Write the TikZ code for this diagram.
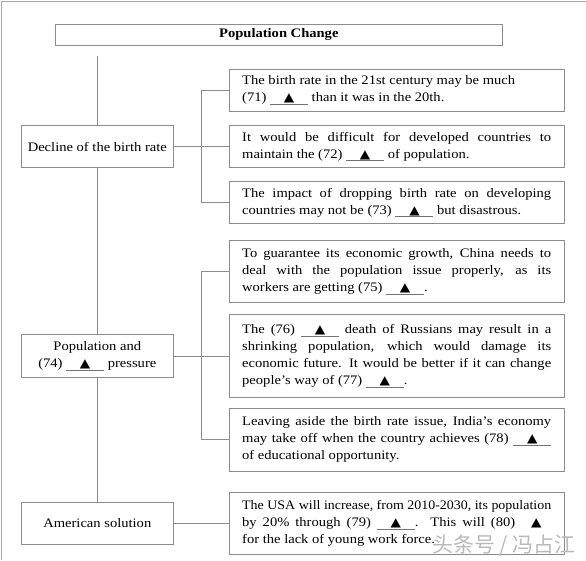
\documentclass[tikz,border=0pt]{standalone}
\usepackage{fontspec}
\setmainfont{Liberation Serif}[FakeStretch=1.12]
\newfontfamily\symf{DejaVu Sans}
\newfontfamily\cjk{Noto Sans CJK SC}
\definecolor{linegray}{HTML}{8C8C8C}
\definecolor{framegray}{HTML}{A8A8A8}
\newcommand\tri{\scalebox{1.0}[0.9]{\symf\fontsize{13.5}{13.5}\selectfont ▲}}
\newcommand\blk{\makebox[38pt][l]{\raisebox{-2.8pt}{\textcolor{black!55}{\rule{38pt}{0.6pt}}}}\kern-38pt\makebox[38pt]{\tri}}
\newcommand\blknoline{\makebox[30pt]{\tri}}
\tikzset{
  txt/.style={font=\fontsize{13}{17}\selectfont},
  boxline/.style={draw=linegray, line width=0.8pt},
  lbox/.style={boxline, txt, minimum width=152pt, inner sep=0pt, align=center},
  rbox/.style={boxline, txt, text width=309pt, inner xsep=12.85pt, inner ysep=0pt, align=justify},
  conn/.style={draw=linegray, line width=0.8pt},
}
\begin{document}
\begin{tikzpicture}[x=1pt,y=-1pt]
\useasboundingbox (0,0) rectangle (586,560);
\draw[framegray, line width=1pt] (1,560) -- (1,1) -- (586,1);

\node[boxline, font=\bfseries\fontsize{13}{17}\selectfont, minimum width=447pt, minimum height=20.7pt, inner sep=0pt] (title) at (278.8,34.65) {Population Change};

\node[lbox, minimum height=41.6pt] (decl) at (97.3,146.5) {Decline of the birth rate};
\node[lbox, minimum height=42.3pt] (pop) at (97.3,355.9) {Population and\\(74) \blk{} pressure};
\node[lbox, minimum height=41.7pt] (amer) at (97.3,523.2) {American solution};

\node[rbox, minimum height=41.7pt] (b1) at (396.7,90.2) {The birth rate in the 21st century may be much\\(71) \blk{} than it was in the 20th.};
\node[rbox, minimum height=41.3pt] (b2) at (396.7,146.5) {It would be difficult for developed countries to\linebreak maintain the (72) \blk{} of population.};
\node[rbox, minimum height=41.8pt] (b3) at (396.7,202.4) {The impact of dropping birth rate on developing\linebreak countries may not be (73) \blk{} but disastrous.};
\node[rbox, minimum height=62pt] (b4) at (396.7,271.7) {To guarantee its economic growth, China needs to\linebreak deal with the population issue properly, as its\linebreak workers are getting (75) \blk{}.};
\node[rbox, minimum height=83.2pt] (b5) at (396.7,355.9) {The (76) \blk{} death of Russians may result in a\linebreak shrinking population, which would damage its\linebreak economic future. It would be better if it can change\linebreak people's way of (77) \blk{}.};
\node[rbox, minimum height=62.7pt] (b6) at (396.7,439.7) {Leaving aside the birth rate issue, India's economy\linebreak may take off when the country achieves (78) \blk\linebreak of educational opportunity.};
\node[rbox, minimum height=61.7pt] (b7) at (396.7,523.2) {\resizebox{\linewidth}{\height}{The USA will increase, from 2010-2030, its population}\linebreak by 20\% through (79) \blk{}. This will (80) \blknoline\linebreak for the lack of young work force.};

\coordinate (top) at (97.3,55.7);
\coordinate (j1) at (201.3,146.5);
\coordinate (j2) at (201.3,355.9);

\draw[conn] (top) -- (decl.north);
\draw[conn] (decl.south) -- (pop.north);
\draw[conn] (pop.south) -- (amer.north);

\draw[conn] (decl.east) -- (b2.west);
\draw[conn] (b1.west) -| (j1) |- (b3.west);
\draw[conn] (pop.east) -- (b5.west);
\draw[conn] (b4.west) -| (j2) |- (b6.west);
\draw[conn] (amer.east) -- (b7.west);

\node[font=\cjk\fontsize{21}{21}\selectfont, text=gray!55, inner sep=0pt] (wm) at (504,546) {头条号 / 冯占江};
\end{tikzpicture}
\end{document}
